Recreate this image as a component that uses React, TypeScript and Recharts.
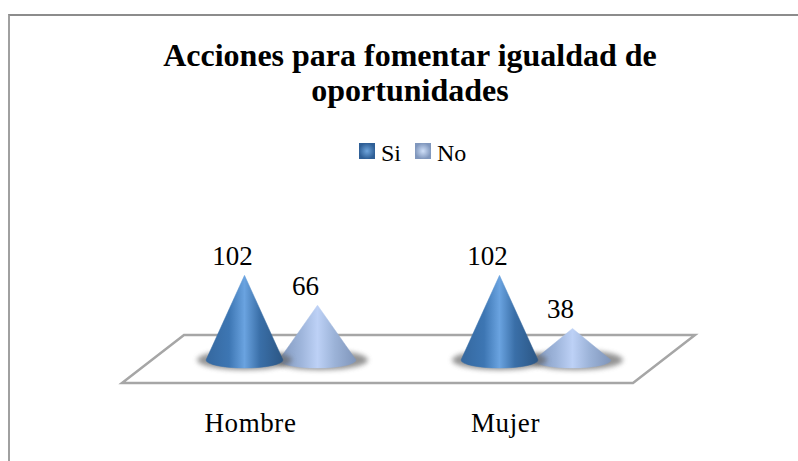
import { BarChart, Bar, XAxis, YAxis, LabelList, Legend, Customized } from 'recharts'

const categories = ['Hombre', 'Mujer']
const siValues = [102, 102]
const noValues = [66, 38]

const data = categories.map((name, i) => ({ name, Si: siValues[i], No: noValues[i] }))

const serif = '"Liberation Serif", serif'

function Floor() {
  return (
    <polygon
      points="184,335 695,335 633,383 122,383"
      fill="#fff"
      stroke="#a6a6a6"
      strokeWidth={2.5}
    />
  )
}

function Cone(props: any) {
  const { x, y, width, height, id, shadowShift } = props
  const cx = x + width / 2
  const base = y + height
  const rx = 38.5
  const ry = 8
  return (
    <g>
      <ellipse cx={cx + shadowShift} cy={base} rx={rx + 9} ry={ry + 2} fill="#666" opacity={0.7} filter="url(#coneBlur)" />
      <path
        d={`M${cx},${y} L${cx + rx},${base} A${rx},${ry} 0 0 1 ${cx - rx},${base} Z`}
        fill={`url(#${id})`}
        stroke={`url(#${id})`}
        strokeWidth={0.5}
      />
    </g>
  )
}

function LegendContent() {
  const items = [
    { name: 'Si', fill: 'url(#legendSi)', x: 0 },
    { name: 'No', fill: 'url(#legendNo)', x: 56 },
  ]
  return (
    <svg width={110} height={28} style={{ display: 'block' }}>
      {items.map((it) => (
        <g key={it.name}>
          <rect x={it.x} y={5} width={16} height={16} fill={it.fill} />
          <text x={it.x + 22} y={23} fontFamily={serif} fontSize={24} fill="#000">
            {it.name}
          </text>
        </g>
      ))}
    </svg>
  )
}

export default function App() {
  return (
    <div style={{ position: 'absolute', left: 0, top: 0, width: 798, height: 461, overflow: 'hidden', background: '#fff' }}>
      <div
        style={{
          position: 'absolute',
          left: 8,
          top: 14,
          width: 800,
          height: 460,
          borderTop: '2.5px solid #8c8c8c',
          borderLeft: '2.5px solid #a0a0a0',
        }}
      />
      <div
        style={{
          position: 'absolute',
          left: 0,
          top: 38,
          width: 820,
          textAlign: 'center',
          fontFamily: serif,
          fontWeight: 'bold',
          fontSize: 32,
          lineHeight: '35px',
          color: '#000',
        }}
      >
        Acciones para fomentar igualdad de
        <br />
        oportunidades
      </div>
      <BarChart
        width={798}
        height={461}
        data={data}
        barSize={73}
        barGap={0}
        margin={{ top: 0, right: 135, bottom: 0, left: 153 }}
        style={{ position: 'absolute', left: 0, top: 0 }}
      >
        <defs>
          <linearGradient id="coneSi" x1="0" y1="0" x2="1" y2="0">
            <stop offset="0%" stopColor="#35689f" />
            <stop offset="30%" stopColor="#3d76b3" />
            <stop offset="50%" stopColor="#6aa3e0" />
            <stop offset="70%" stopColor="#3a6fa8" />
            <stop offset="100%" stopColor="#2b5684" />
          </linearGradient>
          <linearGradient id="coneNo" x1="0" y1="0" x2="1" y2="0">
            <stop offset="0%" stopColor="#8097bd" />
            <stop offset="28%" stopColor="#9db4da" />
            <stop offset="50%" stopColor="#bdd1f6" />
            <stop offset="72%" stopColor="#9cb3d8" />
            <stop offset="100%" stopColor="#7f95ba" />
          </linearGradient>
          <radialGradient id="legendSi">
            <stop offset="0%" stopColor="#6fa5dc" />
            <stop offset="100%" stopColor="#2f5f96" />
          </radialGradient>
          <radialGradient id="legendNo">
            <stop offset="0%" stopColor="#cfdff8" />
            <stop offset="100%" stopColor="#8097bd" />
          </radialGradient>
          <filter id="coneBlur" x="-20%" y="-50%" width="140%" height="200%">
            <feGaussianBlur stdDeviation="2.5" />
          </filter>
        </defs>
        <Customized component={Floor} />
        <XAxis
          dataKey="name"
          axisLine={false}
          tickLine={false}
          interval={0}
          dx={-30}
          height={101}
          tick={{ fontFamily: serif, fontSize: 27, fill: '#000', letterSpacing: 0.6, dy: 45 }}
        />
        <YAxis hide domain={[0, 400]} width={0} />
        <Legend content={<LegendContent />} verticalAlign="top" align="center" wrapperStyle={{ top: 138, left: 359, width: 110 }} />
        <Bar dataKey="Si" zIndex={301} isAnimationActive={false} shape={(p: any) => <Cone {...p} id="coneSi" shadowShift={0} />}>
          <LabelList dataKey="Si" position="top" offset={10} dx={-12} style={{ fontFamily: serif, fontSize: 27, fill: '#000' }} />
        </Bar>
        <Bar dataKey="No" isAnimationActive={false} shape={(p: any) => <Cone {...p} id="coneNo" shadowShift={3} />}>
          <LabelList dataKey="No" position="top" offset={10} dx={-12} style={{ fontFamily: serif, fontSize: 27, fill: '#000' }} />
        </Bar>
      </BarChart>
    </div>
  )
}
